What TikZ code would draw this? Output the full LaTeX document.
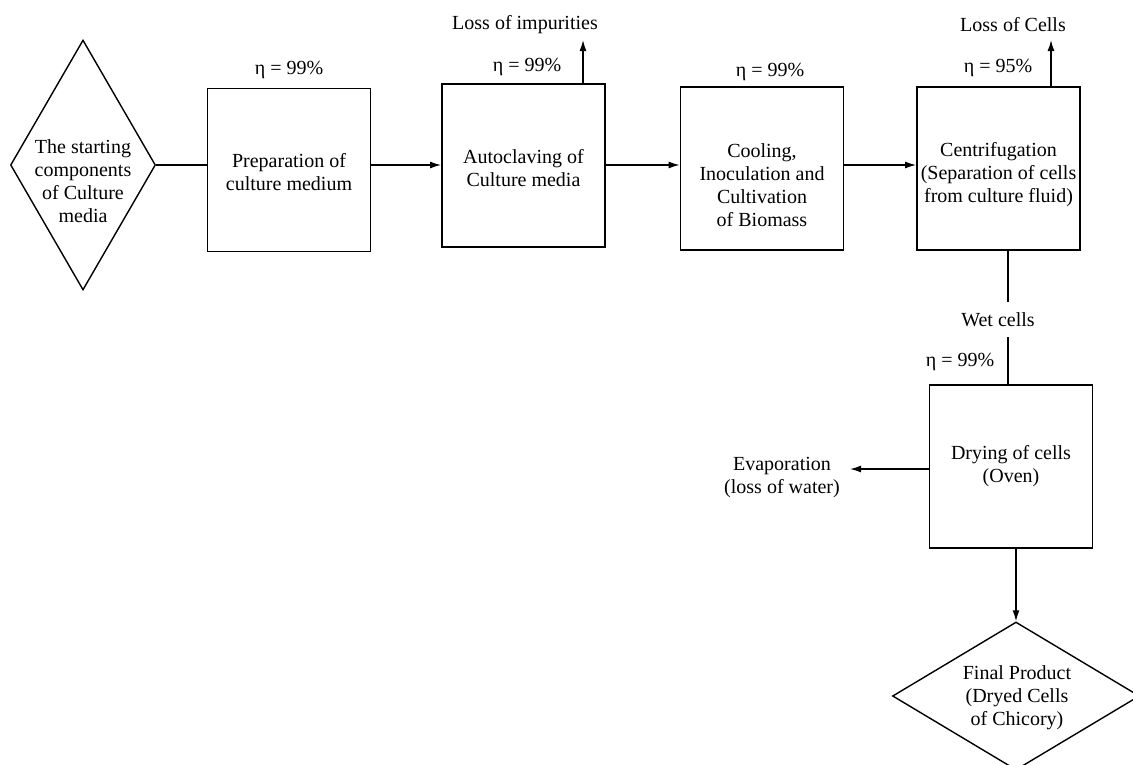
\documentclass[tikz,border=0pt]{standalone}
\usepackage{fontspec}
\setmainfont{Liberation Serif}
\usetikzlibrary{shapes.geometric,arrows.meta}
\begin{document}
\begin{tikzpicture}[x=1pt,y=-1pt,
  every node/.style={font=\fontsize{20}{23}\selectfont, inner sep=0pt},
  procbox/.style={draw, line width=1.8pt, minimum width=163pt, minimum height=163pt},
  decision/.style={diamond, draw, line width=1.4pt},
  flow/.style={line width=1.4pt, -{Latex[length=11pt,width=7pt]}},
  plain/.style={line width=1.4pt},
  lbl/.style={align=center}]
\useasboundingbox (0,0) rectangle (1133,764);
\fill[white] (0,0) rectangle (1133,764);
% level of main flow
\coordinate (lvl) at (0,165);
% start diamond
\node[decision, minimum width=145pt, minimum height=250pt] (d1) at (83,165) {};
\node[lbl] (t1) at (83,181) {The starting\\components\\of Culture\\media};
% boxes
\node[procbox] (b1) at (289,170) {};
\node[lbl] (tb1) at (289,172) {Preparation of\\culture medium};
\node (e1) at (289,70) {η = 99\%};
\node[procbox] (b2) at (523.5,165.5) {};
\node[lbl] (tb2) at (523.5,168) {Autoclaving of\\Culture media};
\node (e2) at (527,67) {η = 99\%};
\node (l2) at (525,25) {Loss of impurities};
\coordinate (u2) at (583,40);
\node[procbox] (b3) at (762,168.5) {};
\node[lbl] (tb3) at (762,185) {Cooling,\\Inoculation and\\Cultivation\\of Biomass};
\node (e3) at (770,72) {η = 99\%};
\node[procbox] (b4) at (998.5,168.5) {};
\node[lbl] (tb4) at (998.5,175) {Centrifugation\\(Separation of cells\\from culture fluid)};
\node (e4) at (998,68) {η = 95\%};
\node (l4) at (1013,25) {Loss of Cells};
\coordinate (u4) at (1051,40);
% wet cells
\node (wc) at (998,320) {Wet cells};
\coordinate (w1) at (1008,302);
\coordinate (w2) at (1008,337);
\node (e5) at (960,362) {η = 99\%};
\node[procbox] (b5) at (1011,466.5) {};
\node[lbl] (tb5) at (1011,466) {Drying of cells\\(Oven)};
\node[lbl] (ev) at (782,477) {Evaporation\\(loss of water)};
\coordinate (evtip) at (850,469);
% final diamond
\node[decision, minimum width=247pt, minimum height=148pt] (d2) at (1016,696) {};
\node[lbl] (t2) at (1017,698) {Final Product\\(Dryed Cells\\of Chicory)};
% connectors
\draw[plain] (d1.east) -- (d1.east -| b1.west);
\draw[flow] (b1.east |- lvl) -- (b2.west |- lvl);
\draw[flow] (b2.east |- lvl) -- (b3.west |- lvl);
\draw[flow] (b3.east |- lvl) -- (b4.west |- lvl);
\draw[flow] (b2.north -| u2) -- (u2);
\draw[flow] (b4.north -| u4) -- (u4);
\draw[plain] (b4.south -| w1) -- (w1);
\draw[plain] (w2) -- (b5.north -| w2);
\draw[flow] (b5.west |- evtip) -- (evtip);
\draw[flow] (b5.south -| d2.north) -- (d2.north);
\end{tikzpicture}
\end{document}
